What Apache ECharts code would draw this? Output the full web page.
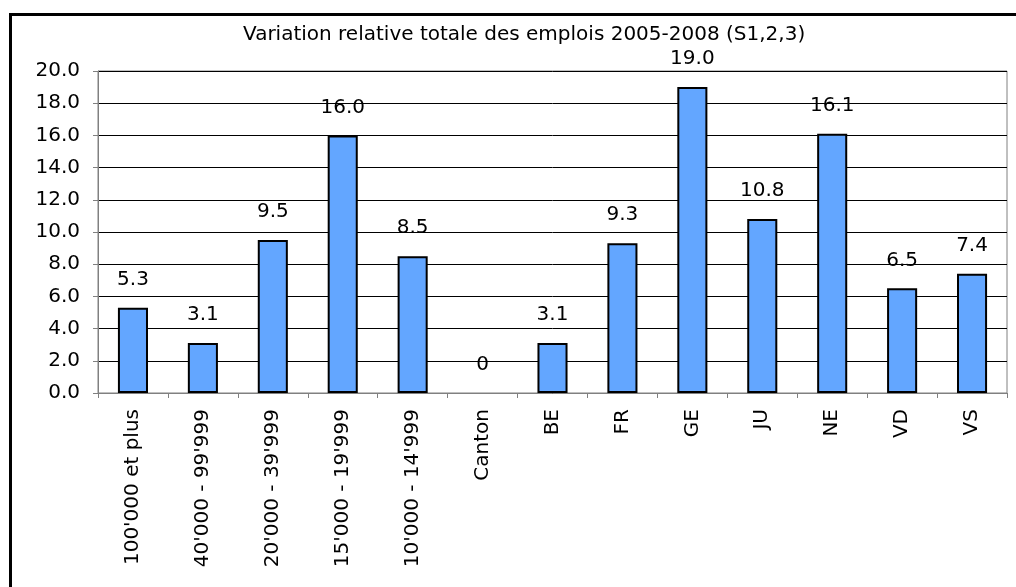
<!DOCTYPE html>
<html>
<head>
<meta charset="utf-8">
<script src="https://cdn.jsdelivr.net/npm/echarts@6/dist/echarts.min.js"></script>
<style>
html,body{margin:0;padding:0;background:#fff;}
#chart{width:1016px;height:587px;}
</style>
</head>
<body>
<div id="chart"></div>
<script>
const categories = ["100'000 et plus", "40'000 - 99'999", "20'000 - 39'999", "15'000 - 19'999", "10'000 - 14'999", "Canton", "BE", "FR", "GE", "JU", "NE", "VD", "VS"];
const values = [5.3, 3.1, 9.5, 16.0, 8.5, 0, 3.1, 9.3, 19.0, 10.8, 16.1, 6.5, 7.4];
const yTicks = { min: 0, max: 20, interval: 2 };
const titleText = "Variation relative totale des emplois 2005-2008 (S1,2,3)";

const chart = echarts.init(document.getElementById('chart'));
const FONT = 'DejaVu Sans, sans-serif';
const FS = 20;
chart.setOption({
  animation: false,
  backgroundColor: '#fff',
  title: {
    text: titleText,
    left: 238, top: 20,
    textStyle: { fontFamily: FONT, fontSize: FS, fontWeight: 'normal', color: '#000' }
  },
  graphic: [{
    type: 'rect', silent: true,
    shape: { x: 10.5, y: 14.5, width: 1100, height: 700 },
    style: { fill: 'none', stroke: '#000', lineWidth: 3 }
  }],
  grid: { left: 98, right: 9, top: 71, bottom: 194, show: true, borderColor: '#808080', borderWidth: 1, backgroundColor: 'transparent' },
  xAxis: {
    type: 'category',
    data: categories,
    axisLine: { lineStyle: { color: '#808080', width: 1 } },
    axisTick: { show: true, alignWithLabel: false, length: 5, lineStyle: { color: '#808080' } },
    axisLabel: { rotate: 90, interval: 0, margin: 16, fontFamily: FONT, fontSize: FS, color: '#000' }
  },
  yAxis: {
    type: 'value',
    min: yTicks.min, max: yTicks.max, interval: yTicks.interval,
    axisLine: { show: true, lineStyle: { color: '#808080', width: 1 } },
    axisTick: { show: true, length: 5, lineStyle: { color: '#808080' } },
    splitLine: { lineStyle: { color: '#000', width: 1 } },
    axisLabel: { margin: 18, fontFamily: FONT, fontSize: FS, color: '#000', formatter: v => v.toFixed(1) }
  },
  series: [{
    type: 'bar',
    data: values.map(v => v === 0 ? { value: v, itemStyle: { borderWidth: 0 } } : v),
    barWidth: '43%',
    itemStyle: { color: '#63A6FF', borderColor: '#000', borderWidth: 2 },
    label: {
      show: true, position: 'top', distance: 18,
      fontFamily: FONT, fontSize: FS, color: '#000',
      formatter: p => p.value === 0 ? '0' : p.value.toFixed(1)
    }
  }]
});
</script>
</body>
</html>
